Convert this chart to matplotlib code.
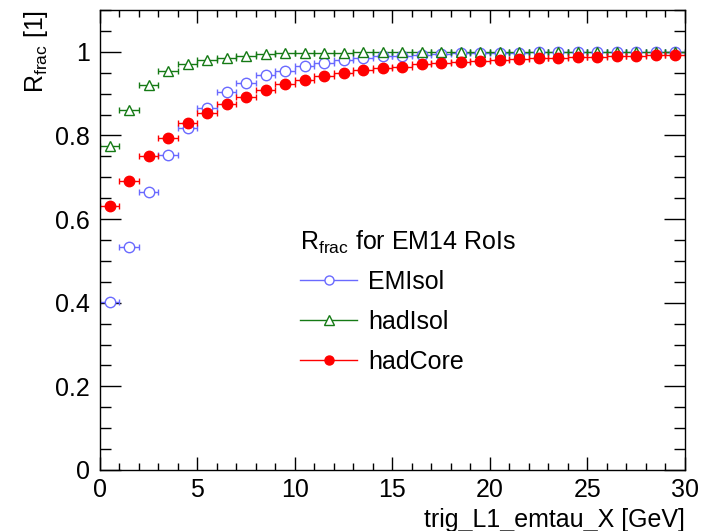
import numpy as np
import matplotlib
matplotlib.use("Agg")
import matplotlib.pyplot as plt
from matplotlib.lines import Line2D
from matplotlib.ticker import MultipleLocator

plt.rcParams['font.family'] = ['Liberation Sans', 'DejaVu Sans']
plt.rcParams['mathtext.fontset'] = 'custom'
plt.rcParams['mathtext.rm'] = 'Liberation Sans'
plt.rcParams['mathtext.it'] = 'Liberation Sans'

bin_edges = np.arange(0, 31, 1)
x_centers = 0.5 * (bin_edges[:-1] + bin_edges[1:])

emisol = [0.401, 0.533, 0.665, 0.753, 0.817, 0.865, 0.903, 0.925, 0.944, 0.955,
          0.966, 0.974, 0.981, 0.986, 0.989, 0.991, 0.993, 0.995, 0.996, 0.997,
          0.998, 0.998, 0.999, 0.999, 0.999, 1.0, 1.0, 1.0, 1.0, 1.0]
hadisol = [0.775, 0.861, 0.921, 0.953, 0.972, 0.980, 0.986, 0.990, 0.994, 0.996,
           0.997, 0.998, 0.998, 0.999, 0.999, 0.999, 1.0, 1.0, 1.0, 1.0,
           1.0, 1.0, 1.0, 1.0, 1.0, 1.0, 1.0, 1.0, 1.0, 1.0]
hadcore = [0.632, 0.691, 0.750, 0.793, 0.830, 0.854, 0.876, 0.893, 0.908, 0.922,
           0.933, 0.942, 0.950, 0.956, 0.961, 0.964, 0.970, 0.973, 0.976, 0.978,
           0.981, 0.983, 0.984, 0.986, 0.987, 0.988, 0.989, 0.991, 0.992, 0.993]

series_labels = ['EMIsol', 'hadIsol', 'hadCore']
series_colors = ['#6a6aff', '#157a15', '#ff0000']
series_markers = ['o', '^', 'o']
series_fill = ['white', 'white', '#ff0000']

fig = plt.figure(figsize=(7.12, 5.31), dpi=100)
ax = fig.add_axes([0.1404, 0.1149, 0.8216, 0.8663])

xerr = 0.5 * np.diff(bin_edges)
handles = []
for vals, lab, col, mk, fc in zip([emisol, hadisol, hadcore], series_labels,
                                  series_colors, series_markers, series_fill):
    ax.errorbar(x_centers, vals, xerr=xerr, fmt=mk, color=col, mfc=fc, mec=col,
                ms=7.5, mew=1.0, elinewidth=1.0, capsize=2.5, capthick=1.0)
    handles.append(Line2D([0], [0], color=col, marker=mk, mfc=fc, mec=col,
                          ms=6.5, mew=1.0, lw=1.0))

ax.set_xlim(0, 30)
ax.set_ylim(0, 1.1)
ax.xaxis.set_major_locator(MultipleLocator(5))
ax.xaxis.set_minor_locator(MultipleLocator(1))
ax.yaxis.set_minor_locator(MultipleLocator(0.05))
ax.set_yticks([0, 0.2, 0.4, 0.6, 0.8, 1.0])
ax.set_yticklabels(['0', '0.2', '0.4', '0.6', '0.8', '1'])
ax.tick_params(which='both', direction='in', top=True, right=True,
               labelsize=18, width=1.0)
ax.tick_params(axis='x', which='major', length=9.4, pad=6)
ax.tick_params(axis='x', which='minor', length=4.7)
ax.tick_params(axis='y', which='major', length=15, pad=7)
ax.tick_params(axis='y', which='minor', length=7.9)
for s in ax.spines.values():
    s.set_linewidth(1.0)

ax.set_xlabel('trig_L1_emtau_X [GeV]', fontsize=18, loc='right', labelpad=4)
ax.set_ylabel(r'R$_{\mathrm{frac}}$ [1]', fontsize=18, loc='top', labelpad=4)

leg = ax.legend(handles, series_labels, title=r'R$_{\mathrm{frac}}$ for EM14 RoIs',
                frameon=False, fontsize=18, title_fontsize=18,
                loc='upper left', bbox_to_anchor=(0.304, 0.574),
                handlelength=2.28, handletextpad=0.44, labelspacing=0.64,
                alignment='left')
leg._legend_box.sep = 10

fig.savefig('out.png', dpi=100)
